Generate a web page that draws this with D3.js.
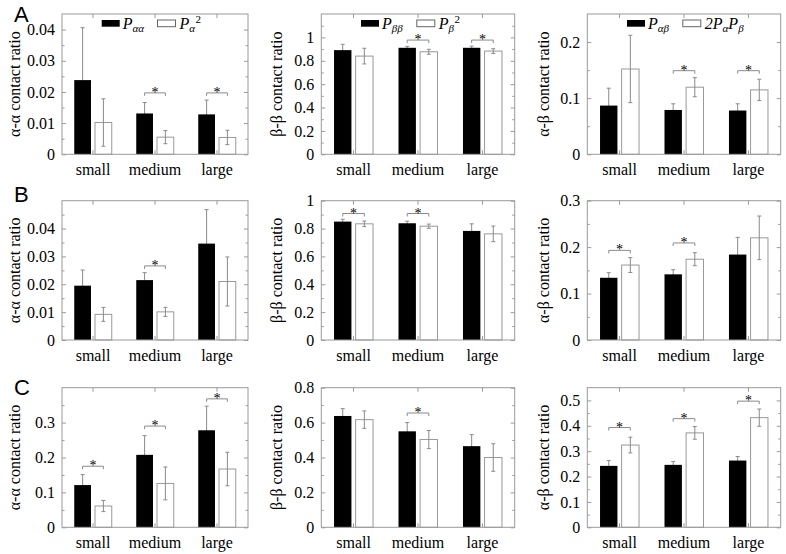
<!DOCTYPE html>
<html><head><meta charset="utf-8">
<script src="https://cdn.jsdelivr.net/npm/d3@7"></script>
<style>
html,body{margin:0;padding:0;background:#fff;}
svg{display:block;}
svg text{font-family:"Liberation Serif","Times New Roman","DejaVu Serif",serif;}
svg text.letter{font-family:"Liberation Sans",Arial,"DejaVu Sans",sans-serif;}
</style>
</head><body>
<svg id="chart" width="786" height="554"></svg>
<script>
// ---------------- DATA ----------------
const categories = ["small", "medium", "large"];
const rowLetters = ["A", "B", "C"];
const yLabels = ["α-α contact ratio", "β-β contact ratio", "α-β contact ratio"];

// Legend labels (row A only): segments {t, sub, sup}
const legendObs = [
  [{t: "P"}, {t: "αα", sub: true}],
  [{t: "P"}, {t: "ββ", sub: true}],
  [{t: "P"}, {t: "αβ", sub: true}]
];
const legendExp = [
  [{t: "P"}, {t: "α", sub: true}, {t: "2", sup: true}],
  [{t: "P"}, {t: "β", sub: true}, {t: "2", sup: true}],
  [{t: "2P"}, {t: "α", sub: true}, {t: "P"}, {t: "β", sub: true}]
];

// Row A
const obsA1 = [0.0238, 0.0131, 0.0128], obsErrA1 = [0.0168, 0.0035, 0.0046];
const expA1 = [0.0102, 0.0055, 0.0054], expErrA1 = [0.0076, 0.0021, 0.0023];
const sigA1 = [[1, 0.0197], [2, 0.0197]];
const ticksA1 = [0, 0.01, 0.02, 0.03, 0.04];

const obsA2 = [0.891, 0.911, 0.911], obsErrA2 = [0.05, 0.012, 0.014];
const expA2 = [0.84, 0.877, 0.883], expErrA2 = [0.067, 0.021, 0.02];
const sigA2 = [[1, 0.977], [2, 0.977]];
const ticksA2 = [0, 0.2, 0.4, 0.6, 0.8, 1];

const obsA3 = [0.0868, 0.079, 0.078], obsErrA3 = [0.031, 0.011, 0.012];
const expA3 = [0.152, 0.1196, 0.1148], expErrA3 = [0.06, 0.017, 0.019];
const sigA3 = [[1, 0.149], [2, 0.149]];
const ticksA3 = [0, 0.1, 0.2];

// Row B
const obsB1 = [0.0195, 0.0215, 0.0346], obsErrB1 = [0.0056, 0.0027, 0.0122];
const expB1 = [0.0092, 0.0101, 0.021], expErrB1 = [0.0025, 0.0016, 0.0088];
const sigB1 = [[1, 0.0266]];
const ticksB1 = [0, 0.01, 0.02, 0.03, 0.04];

const obsB2 = [0.85, 0.838, 0.783], obsErrB2 = [0.017, 0.015, 0.051];
const expB2 = [0.834, 0.817, 0.762], expErrB2 = [0.02, 0.015, 0.056];
const sigB2 = [[0, 0.908], [1, 0.908]];
const ticksB2 = [0, 0.2, 0.4, 0.6, 0.8, 1];

const obsB3 = [0.134, 0.1414, 0.184], obsErrB3 = [0.011, 0.01, 0.037];
const expB3 = [0.1614, 0.174, 0.22], expErrB3 = [0.016, 0.014, 0.047];
const sigB3 = [[0, 0.193], [1, 0.209]];
const ticksB3 = [0, 0.1, 0.2, 0.3];

// Row C
const obsC1 = [0.121, 0.2076, 0.278], obsErrC1 = [0.03, 0.055, 0.069];
const expC1 = [0.061, 0.1257, 0.167], expErrC1 = [0.016, 0.047, 0.048];
const sigC1 = [[0, 0.175], [1, 0.29], [2, 0.368]];
const ticksC1 = [0, 0.1, 0.2, 0.3];

const obsC2 = [0.638, 0.55, 0.465], obsErrC2 = [0.042, 0.05, 0.066];
const expC2 = [0.617, 0.503, 0.40], expErrC2 = [0.05, 0.052, 0.079];
const sigC2 = [[1, 0.655]];
const ticksC2 = [0, 0.2, 0.4, 0.6, 0.8];

const obsC3 = [0.242, 0.246, 0.263], obsErrC3 = [0.021, 0.013, 0.016];
const expC3 = [0.324, 0.372, 0.432], expErrC3 = [0.031, 0.025, 0.034];
const sigC3 = [[0, 0.393], [1, 0.428], [2, 0.497]];
const ticksC3 = [0, 0.1, 0.2, 0.3, 0.4, 0.5];

const yMaxes = [[0.045, 1.2, 0.25], [0.05, 1.0, 0.3], [0.4, 0.8, 0.55]];

const panels = [
  {row: 0, col: 0, obs: obsA1, obsErr: obsErrA1, exp: expA1, expErr: expErrA1, sig: sigA1, ticks: ticksA1},
  {row: 0, col: 1, obs: obsA2, obsErr: obsErrA2, exp: expA2, expErr: expErrA2, sig: sigA2, ticks: ticksA2},
  {row: 0, col: 2, obs: obsA3, obsErr: obsErrA3, exp: expA3, expErr: expErrA3, sig: sigA3, ticks: ticksA3},
  {row: 1, col: 0, obs: obsB1, obsErr: obsErrB1, exp: expB1, expErr: expErrB1, sig: sigB1, ticks: ticksB1},
  {row: 1, col: 1, obs: obsB2, obsErr: obsErrB2, exp: expB2, expErr: expErrB2, sig: sigB2, ticks: ticksB2},
  {row: 1, col: 2, obs: obsB3, obsErr: obsErrB3, exp: expB3, expErr: expErrB3, sig: sigB3, ticks: ticksB3},
  {row: 2, col: 0, obs: obsC1, obsErr: obsErrC1, exp: expC1, expErr: expErrC1, sig: sigC1, ticks: ticksC1},
  {row: 2, col: 1, obs: obsC2, obsErr: obsErrC2, exp: expC2, expErr: expErrC2, sig: sigC2, ticks: ticksC2},
  {row: 2, col: 2, obs: obsC3, obsErr: obsErrC3, exp: expC3, expErr: expErrC3, sig: sigC3, ticks: ticksC3}
];

// ---------------- LAYOUT ----------------
const cols = [
  {x0: 62, x1: 248, ylabX: 14},
  {x0: 321.3, x1: 514.7, ylabX: 276},
  {x0: 587.3, x1: 780.7, ylabX: 543}
];
const rows = [
  {y0: 14, y1: 154.3, letterY: 22},
  {y0: 200.7, y1: 340, letterY: 202},
  {y0: 387.7, y1: 527.3, letterY: 395}
];
const AXIS = "#9a9a9a";
const ERR = "#8a8a8a";

const svg = d3.select("#chart");
svg.append("rect").attr("width", 786).attr("height", 554).attr("fill", "#fff");

const fmt = d => String(+d.toFixed(4));

rows.forEach((r, i) => {
  svg.append("text").attr("class", "letter").attr("x", 14).attr("y", r.letterY)
    .attr("font-size", 22).attr("fill", "#000").text(rowLetters[i]);
});

// one text element per legend label, sub/superscripts as tspans
function drawLegendLabel(g, segs, x, baseY) {
  const t = g.append("text").attr("x", x).attr("y", baseY).attr("font-style", "italic").attr("font-size", 16);
  let shift = 0;
  segs.forEach(s => {
    if (s.sup) {
      const target = -6.5;
      t.append("tspan").attr("dx", 0.5).attr("dy", target - shift)
        .attr("font-size", 11).attr("font-style", "normal").text(s.t);
      shift = target;
      return;
    }
    const target = s.sub ? 2.5 : 0;
    t.append("tspan").attr("dy", target - shift).attr("font-size", s.sub ? 11 : 16).text(s.t);
    shift = target;
  });
}

function drawPanel(p) {
  const c = cols[p.col], r = rows[p.row];
  const yMax = yMaxes[p.row][p.col];
  const g = svg.append("g");
  const x = d3.scaleBand().domain(categories).range([c.x0, c.x1]);
  const y = d3.scaleLinear().domain([0, yMax]).range([r.y1, r.y0]);
  const bw = x.bandwidth() * 0.27, gap = x.bandwidth() * 0.065;
  const cx = d => x(d) + x.bandwidth() / 2;
  const obsX = (d) => cx(d) - gap / 2 - bw;
  const expX = (d) => cx(d) + gap / 2;

  const obsData = categories.map((k, i) => ({k, v: p.obs[i], e: p.obsErr[i]}));
  const expData = categories.map((k, i) => ({k, v: p.exp[i], e: p.expErr[i]}));

  // white bars
  g.selectAll(".exp").data(expData).join("rect")
    .attr("x", d => expX(d.k)).attr("width", bw)
    .attr("y", d => y(d.v)).attr("height", d => y(0) - y(d.v))
    .attr("fill", "#fff").attr("stroke", "#999").attr("stroke-width", 1);

  // error bars
  const errs = obsData.map(d => ({...d, xc: obsX(d.k) + bw / 2}))
    .concat(expData.map(d => ({...d, xc: expX(d.k) + bw / 2})));
  const eg = g.append("g").attr("stroke", ERR).attr("stroke-width", 1).attr("fill", "none");
  errs.forEach(d => {
    eg.append("line").attr("x1", d.xc).attr("x2", d.xc).attr("y1", y(d.v - d.e)).attr("y2", y(d.v + d.e));
    eg.append("line").attr("x1", d.xc - 2).attr("x2", d.xc + 2).attr("y1", y(d.v + d.e)).attr("y2", y(d.v + d.e));
    eg.append("line").attr("x1", d.xc - 2).attr("x2", d.xc + 2).attr("y1", y(d.v - d.e)).attr("y2", y(d.v - d.e));
  });

  // black bars
  g.selectAll(".obs").data(obsData).join("rect")
    .attr("x", d => obsX(d.k)).attr("width", bw)
    .attr("y", d => y(d.v)).attr("height", d => y(0) - y(d.v))
    .attr("fill", "#000");

  // axes
  const step = p.ticks[1] - p.ticks[0];
  const minor = d3.range(step / 2, yMax - 1e-9, step);
  const styleAxis = sel => {
    sel.select(".domain").remove();
    sel.attr("font-family", null);
    sel.selectAll(".tick line").attr("stroke", AXIS);
    sel.selectAll("text").attr("font-size", 16).attr("fill", "#000");
  };
  g.append("g").attr("transform", `translate(${c.x0},0)`)
    .call(d3.axisLeft(y).tickValues(p.ticks).tickFormat(fmt).tickSize(-4).tickPadding(7)).call(styleAxis);
  g.append("g").attr("transform", `translate(${c.x0},0)`)
    .call(d3.axisLeft(y).tickValues(minor).tickFormat("").tickSize(-2.5)).call(styleAxis);
  g.append("g").attr("transform", `translate(${c.x1},0)`)
    .call(d3.axisRight(y).tickValues(p.ticks).tickFormat("").tickSize(-4)).call(styleAxis);
  g.append("g").attr("transform", `translate(${c.x1},0)`)
    .call(d3.axisRight(y).tickValues(minor).tickFormat("").tickSize(-2.5)).call(styleAxis);
  g.append("g").attr("transform", `translate(0,${r.y1})`)
    .call(d3.axisBottom(x).tickSize(-4).tickPadding(9.5)).call(styleAxis);
  g.append("g").attr("transform", `translate(0,${r.y0})`)
    .call(d3.axisTop(x).tickSize(-4).tickFormat("")).call(styleAxis);

  // frame
  g.append("rect").attr("x", c.x0).attr("y", r.y0)
    .attr("width", c.x1 - c.x0).attr("height", r.y1 - r.y0)
    .attr("fill", "none").attr("stroke", AXIS).attr("stroke-width", 1);

  // significance brackets
  p.sig.forEach(([i, v]) => {
    const k = categories[i];
    const xa = obsX(k) + bw / 2, xb = expX(k) + bw / 2, yy = y(v);
    g.append("path").attr("d", `M${xa},${yy + 3}V${yy}H${xb}V${yy + 3}`)
      .attr("fill", "none").attr("stroke", ERR).attr("stroke-width", 1);
    g.append("text").attr("x", (xa + xb) / 2).attr("y", yy + 4)
      .attr("text-anchor", "middle").attr("font-size", 14).attr("fill", "#000").text("*");
  });

  // y label
  const cyL = (r.y0 + r.y1) / 2;
  g.append("text").attr("transform", `translate(${c.ylabX},${cyL}) rotate(-90)`)
    .attr("text-anchor", "middle").attr("dy", "0.35em")
    .attr("font-size", 16).attr("fill", "#000")
    .text(yLabels[p.col]);

  // legend (top row)
  if (p.row === 0) {
    const lg = g.append("g");
    const bx = c.x0 + 39.7, wx = c.x0 + 95.5;
    lg.append("rect").attr("x", bx).attr("y", 20).attr("width", 18).attr("height", 6.7).attr("fill", "#000");
    lg.append("rect").attr("x", wx).attr("y", 20).attr("width", 18).attr("height", 6.7)
      .attr("fill", "#fff").attr("stroke", "#666").attr("stroke-width", 1);
    drawLegendLabel(lg, legendObs[p.col], bx + 21, 29);
    drawLegendLabel(lg, legendExp[p.col], wx + 22, 29);
  }
}

panels.forEach(drawPanel);
</script>
</body></html>
